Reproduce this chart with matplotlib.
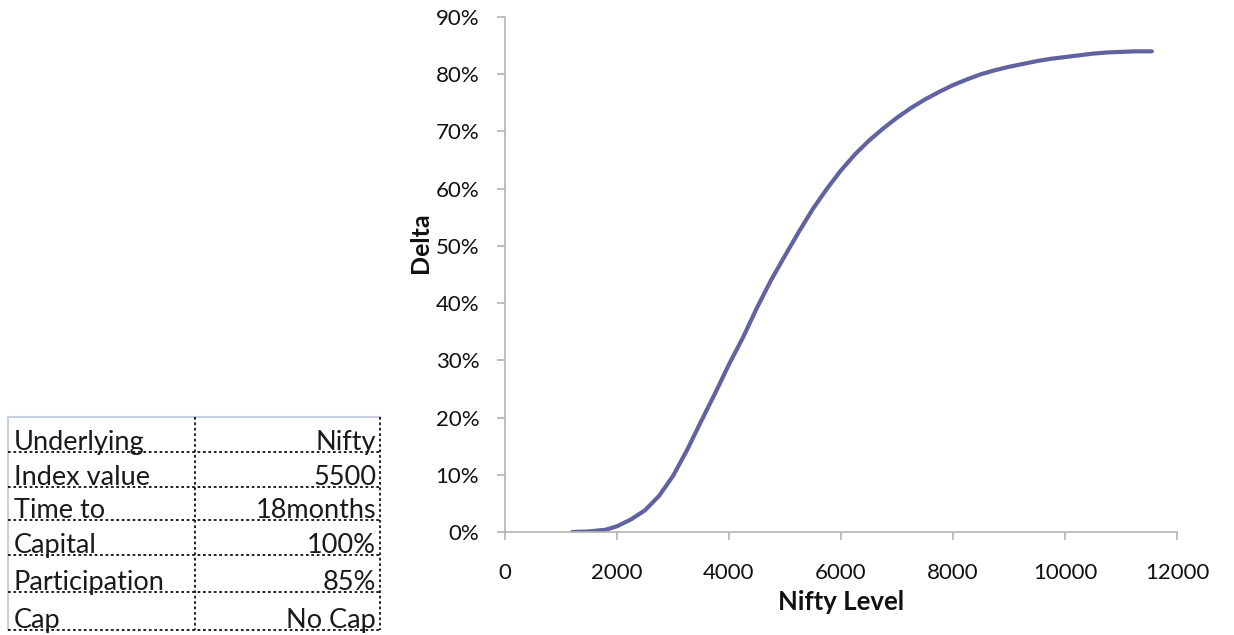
import matplotlib
matplotlib.use("Agg")
import matplotlib.pyplot as plt
import numpy as np
from matplotlib.ticker import FuncFormatter, MultipleLocator

plt.rcParams['font.family'] = ['Lato', 'DejaVu Sans']

# Data
nifty_level = [1200, 1500, 1800, 2000, 2250, 2500, 2750, 3000, 3250, 3500, 3750,
               4000, 4250, 4500, 4750, 5000, 5250, 5500, 5750, 6000, 6250, 6500,
               6750, 7000, 7250, 7500, 7750, 8000, 8250, 8500, 8750, 9000, 9250,
               9500, 9750, 10000, 10250, 10500, 10750, 11000, 11250, 11550]
delta_pct = [0.0, 0.1, 0.4, 1.0, 2.2, 3.8, 6.3, 9.8, 14.3, 19.3, 24.2,
             29.3, 34.0, 39.2, 44.0, 48.3, 52.5, 56.5, 60.0, 63.2, 66.0, 68.4,
             70.5, 72.4, 74.1, 75.6, 76.9, 78.1, 79.1, 80.0, 80.7, 81.3, 81.8,
             82.3, 82.7, 83.0, 83.3, 83.6, 83.8, 83.9, 84.0, 84.0]

table_labels = ["Underlying", "Index value", "Time to", "Capital", "Participation", "Cap"]
table_values = ["Nifty", "5500", "18months", "100%", "85%", "No Cap"]

W, H = 1234, 635
fig = plt.figure(figsize=(W / 100, H / 100), dpi=100)

def fx(px):
    return px / W

def fy(py):
    return 1 - py / H

ax = fig.add_axes([fx(505), fy(532), fx(1177) - fx(505), fy(17) - fy(532)])
ax.plot(nifty_level, np.array(delta_pct) / 100.0, color='#60639f', lw=3.0,
        solid_capstyle='round')
ax.set_xlim(0, 12000)
ax.set_ylim(0, 0.9)
ax.xaxis.set_major_locator(MultipleLocator(2000))
ax.yaxis.set_major_locator(MultipleLocator(0.1))
ax.yaxis.set_major_formatter(FuncFormatter(lambda v, p: f"{v*100:.0f}%"))
for s in ['top', 'right']:
    ax.spines[s].set_visible(False)
for s in ['left', 'bottom']:
    ax.spines[s].set_color('#b3b3b3')
    ax.spines[s].set_linewidth(1.2)
ax.tick_params(axis='both', direction='out', length=5.5, width=1.2,
               color='#b3b3b3', labelsize=16, labelcolor='#111111')
ax.tick_params(axis='x', pad=17)
ax.tick_params(axis='y', pad=13)

fig.text(fx(421), fy(243), "Delta", rotation=90, fontsize=18, fontweight='bold',
         ha='center', va='center', color='#111111')
fig.text(fx(841), fy(602), "Nifty Level", fontsize=18.5, fontweight='bold',
         ha='center', va='center', color='#111111')

# Table drawn on the figure
tl, tm, tr = 8, 195, 380
rows_y = [417, 452, 487, 520, 555, 592, 630]
line_kw = dict(color='#111111', lw=1.3, linestyle=(0, (1.5, 1.5)),
               transform=fig.transFigure)
# top and left border (light solid)
fig.add_artist(plt.Line2D([fx(tl), fx(tr)], [fy(rows_y[0]), fy(rows_y[0])],
                          color='#c8cfe0', lw=1.5, transform=fig.transFigure))
fig.add_artist(plt.Line2D([fx(tl), fx(tl)], [fy(rows_y[0]), fy(rows_y[-1])],
                          color='#c8cfe0', lw=1.5, transform=fig.transFigure))
for yy in rows_y[1:]:
    fig.add_artist(plt.Line2D([fx(tl), fx(tr)], [fy(yy), fy(yy)], **line_kw))
for xx in [tm, tr]:
    fig.add_artist(plt.Line2D([fx(xx), fx(xx)], [fy(rows_y[0]), fy(rows_y[-1])], **line_kw))

for i, (lab, val) in enumerate(zip(table_labels, table_values)):
    base = rows_y[i + 1] - 2
    fig.text(fx(tl + 6), fy(base), lab, fontsize=19.5, ha='left', va='baseline',
             color='#1a1a1a')
    fig.text(fx(tr - 4), fy(base), val, fontsize=19.5, ha='right', va='baseline',
             color='#1a1a1a')

fig.savefig("out.png", dpi=100, facecolor='white')
